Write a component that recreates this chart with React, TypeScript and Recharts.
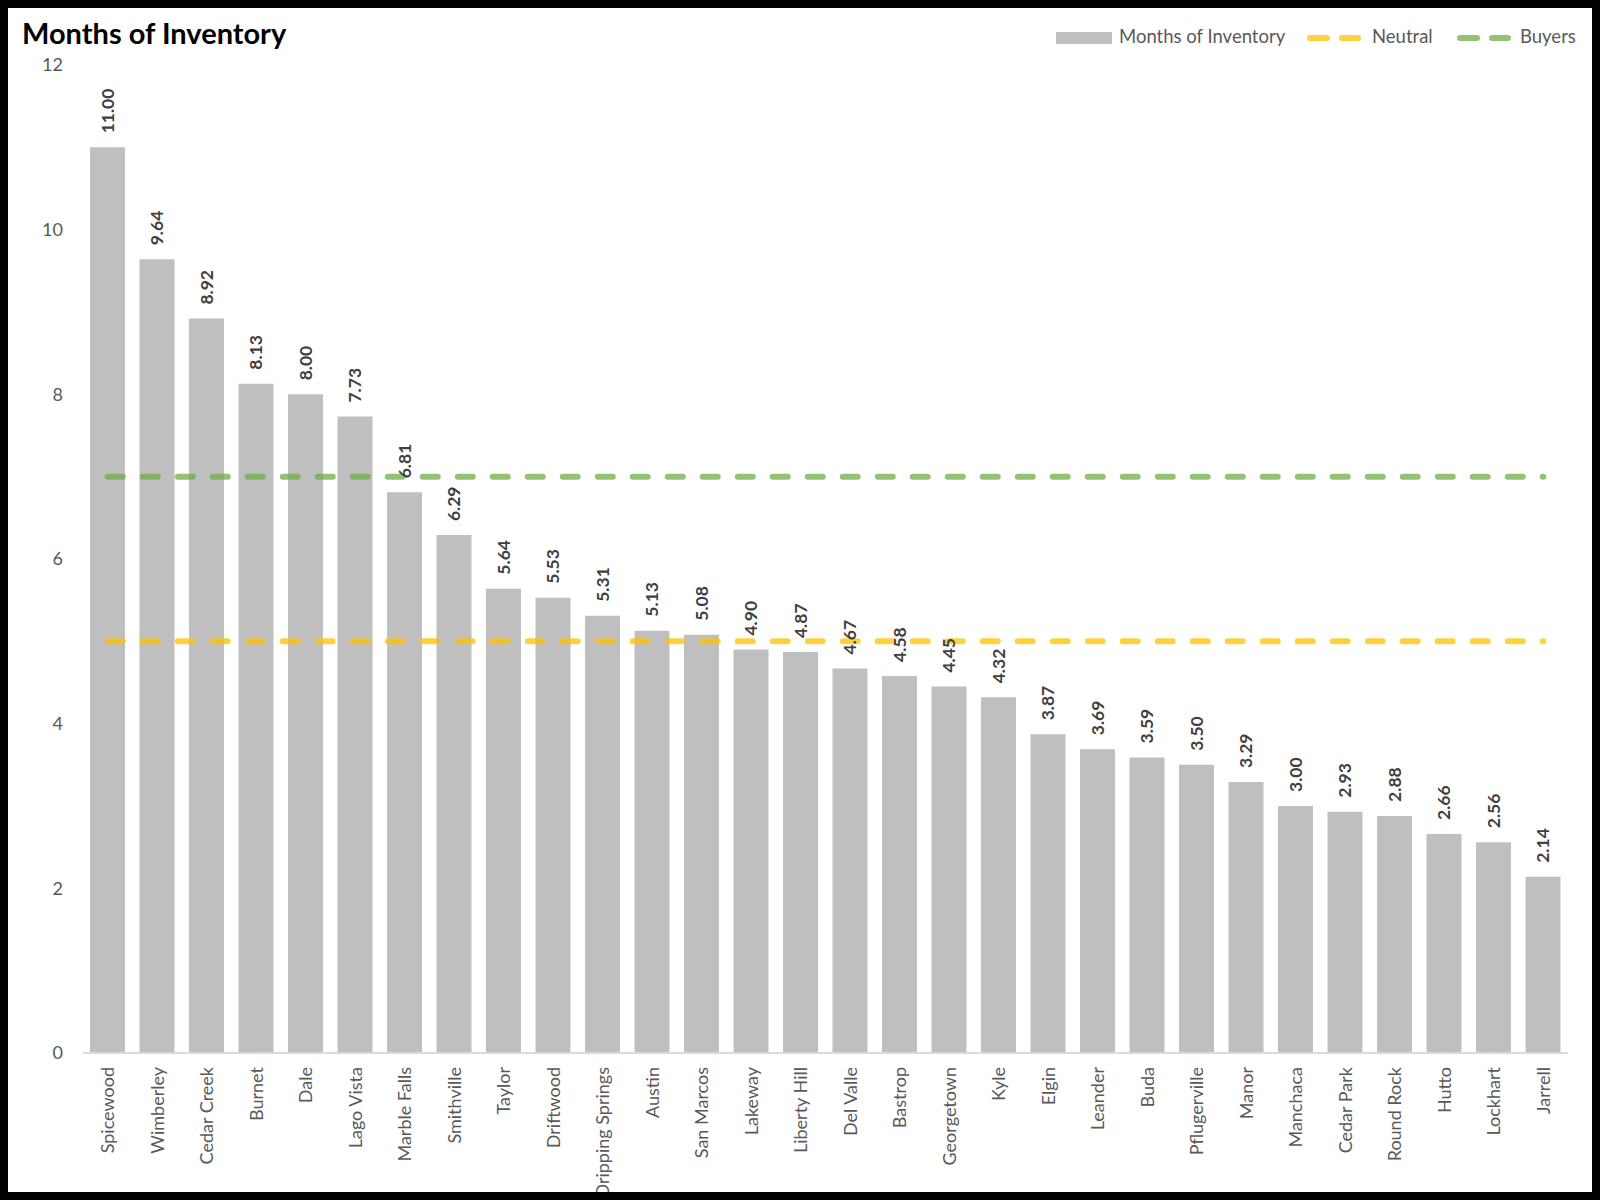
import { ComposedChart, Bar, Line, XAxis, YAxis, LabelList } from 'recharts';

const cities = [
  'Spicewood', 'Wimberley', 'Cedar Creek', 'Burnet', 'Dale', 'Lago Vista',
  'Marble Falls', 'Smithville', 'Taylor', 'Driftwood', 'Dripping Springs',
  'Austin', 'San Marcos', 'Lakeway', 'Liberty Hill', 'Del Valle', 'Bastrop',
  'Georgetown', 'Kyle', 'Elgin', 'Leander', 'Buda', 'Pflugerville', 'Manor',
  'Manchaca', 'Cedar Park', 'Round Rock', 'Hutto', 'Lockhart', 'Jarrell',
];

const monthsOfInventory = [
  11.0, 9.64, 8.92, 8.13, 8.0, 7.73, 6.81, 6.29, 5.64, 5.53, 5.31, 5.13,
  5.08, 4.9, 4.87, 4.67, 4.58, 4.45, 4.32, 3.87, 3.69, 3.59, 3.5, 3.29,
  3.0, 2.93, 2.88, 2.66, 2.56, 2.14,
];

const neutral = [
  5, 5, 5, 5, 5, 5, 5, 5, 5, 5, 5, 5, 5, 5, 5,
  5, 5, 5, 5, 5, 5, 5, 5, 5, 5, 5, 5, 5, 5, 5,
];

const buyers = [
  7, 7, 7, 7, 7, 7, 7, 7, 7, 7, 7, 7, 7, 7, 7,
  7, 7, 7, 7, 7, 7, 7, 7, 7, 7, 7, 7, 7, 7, 7,
];

const yTicks = [0, 2, 4, 6, 8, 10, 12];

const FONT = 'Lato, "Open Sans", sans-serif';
const BAR = '#BFBFBF';
const YELLOW = '#FFC000';
const GREEN = '#70AD47';

const data = cities.map((name, i) => ({
  name,
  months: monthsOfInventory[i],
  neutral: neutral[i],
  buyers: buyers[i],
}));

function CityTick({ x, y, payload }: any) {
  return (
    <g transform={`translate(${x},${y})`}>
      <text
        transform="rotate(-90)"
        x={-14}
        dy="0.35em"
        textAnchor="end"
        fill="#595959"
        fontSize={18}
        fontFamily={FONT}
      >
        {payload.value}
      </text>
    </g>
  );
}

function ValueLabel(props: any) {
  const x = Number(props.x);
  const y = Number(props.y);
  const w = Number(props.width);
  const v = Number(props.value);
  return (
    <text
      transform={`translate(${x + w / 2},${y - 14}) rotate(-90)`}
      dy="0.35em"
      textAnchor="start"
      fill="#404040"
      fontSize={17.5}
      fontWeight={700}
      fontFamily={FONT}
    >
      {v.toFixed(2)}
    </text>
  );
}

function DashIcon({ color }: { color: string }) {
  return (
    <svg width={54} height={12} style={{ display: 'block' }}>
      <line x1={3} y1={6} x2={20} y2={6} stroke={color} strokeOpacity={0.75} strokeWidth={6} strokeLinecap="round" />
      <line x1={35} y1={6} x2={51} y2={6} stroke={color} strokeOpacity={0.75} strokeWidth={6} strokeLinecap="round" />
    </svg>
  );
}

const legendText: React.CSSProperties = {
  position: 'absolute',
  top: 17,
  fontFamily: FONT,
  fontSize: 18.5,
  color: '#595959',
  lineHeight: '22px',
  whiteSpace: 'nowrap',
};

export default function App() {
  return (
    <div style={{ position: 'absolute', left: 0, top: 0, width: 1600, height: 1200, background: '#000' }}>
      <div style={{ position: 'absolute', left: 8, top: 8, width: 1584, height: 1184, background: '#fff', overflow: 'hidden' }}>
        <div
          style={{
            position: 'absolute',
            left: 14,
            top: 8,
            fontFamily: FONT,
            fontWeight: 700,
            fontSize: 29,
            color: '#000',
            lineHeight: '34px',
          }}
        >
          Months of Inventory
        </div>

        {/* legend */}
        <div style={{ position: 'absolute', left: 1048, top: 24, width: 56, height: 12, background: BAR }} />
        <div style={{ ...legendText, left: 1111 }}>Months of Inventory</div>
        <div style={{ position: 'absolute', left: 1299, top: 24 }}>
          <DashIcon color={YELLOW} />
        </div>
        <div style={{ ...legendText, left: 1364 }}>Neutral</div>
        <div style={{ position: 'absolute', left: 1449, top: 24 }}>
          <DashIcon color={GREEN} />
        </div>
        <div style={{ ...legendText, left: 1512 }}>Buyers</div>

        <ComposedChart
          width={1584}
          height={1184}
          data={data}
          margin={{ top: 57, right: 24, bottom: 19, left: 15 }}
        >
          <XAxis
            dataKey="name"
            interval={0}
            height={120}
            tickLine={false}
            tickSize={0}
            tickMargin={0}
            axisLine={{ stroke: '#D9D9D9', strokeWidth: 2 }}
            tick={<CityTick />}
          />
          <YAxis
            width={60}
            domain={[0, 12]}
            ticks={yTicks}
            axisLine={false}
            tickLine={false}
            tickSize={0}
            tickMargin={20}
            tick={{ fill: '#595959', fontSize: 18, fontFamily: FONT }}
          />
          <Bar dataKey="months" fill={BAR} barSize={35} isAnimationActive={false}>
            <LabelList dataKey="months" content={<ValueLabel />} />
          </Bar>
          <Line
            type="linear"
            dataKey="neutral"
            stroke={YELLOW}
            strokeOpacity={0.75}
            strokeWidth={6}
            strokeDasharray="15 20"
            strokeLinecap="round"
            dot={false}
            activeDot={false}
            isAnimationActive={false}
          />
          <Line
            type="linear"
            dataKey="buyers"
            stroke={GREEN}
            strokeOpacity={0.75}
            strokeWidth={6}
            strokeDasharray="15 20"
            strokeLinecap="round"
            dot={false}
            activeDot={false}
            isAnimationActive={false}
          />
        </ComposedChart>
      </div>
    </div>
  );
}
